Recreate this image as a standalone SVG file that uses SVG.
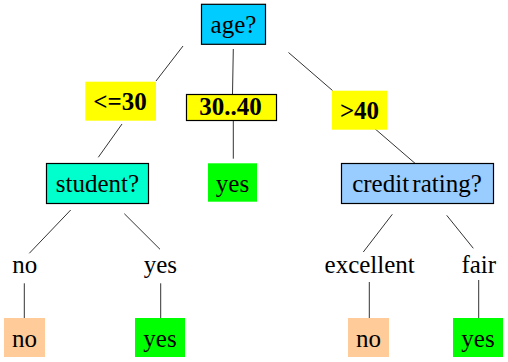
<svg xmlns="http://www.w3.org/2000/svg" width="508" height="362" viewBox="0 0 508 362">
<style>
.t{font-size:25px;fill:#000;text-anchor:middle}
.b{font-weight:bold}
.box{stroke:#000;stroke-width:1.2}
#connectors line{stroke:#333;stroke-width:1}
</style>
<rect width="508" height="362" fill="#fff"/>
<g id="connectors">
<line x1="183" y1="46" x2="156" y2="81"/>
<line x1="233.3" y1="49" x2="232.5" y2="94"/>
<line x1="288.5" y1="52.5" x2="332.5" y2="90.5"/>
<line x1="122" y1="124" x2="98.3" y2="157.3"/>
<line x1="233.3" y1="120.5" x2="233.3" y2="158.7"/>
<line x1="375" y1="128.8" x2="415" y2="163.3"/>
<line x1="70.7" y1="210" x2="29.3" y2="253.3"/>
<line x1="124.3" y1="213.7" x2="160" y2="249.3"/>
<line x1="392.3" y1="214.3" x2="363.3" y2="252"/>
<line x1="446.7" y1="215.3" x2="473.3" y2="248.3"/>
<line x1="24.3" y1="283.3" x2="24.3" y2="318"/>
<line x1="160.7" y1="283.3" x2="160.7" y2="318"/>
<line x1="369.3" y1="282" x2="369.3" y2="318"/>
<line x1="478.7" y1="280" x2="478.7" y2="318"/>
</g>
<g id="age">
<rect class="box" x="201.5" y="4.3" width="64" height="40" fill="#00CCFF"/>
<text class="t" font-family="Liberation Serif" x="233.5" y="33">age?</text>
</g>
<g id="le30">
<rect x="85.3" y="81.7" width="70.7" height="39" fill="#FFFF00"/>
<text class="t b" font-family="Liberation Serif" x="120" y="110">&lt;=30</text>
</g>
<g id="r3040">
<rect class="box" x="186.5" y="94.5" width="90" height="26" fill="#FFFF00"/>
<text class="t b" font-family="Liberation Serif" x="230.5" y="115" font-size="20">30..40</text>
</g>
<g id="gt40">
<rect x="332" y="90.7" width="55" height="39" fill="#FFFF00"/>
<text class="t b" font-family="Liberation Serif" x="359.5" y="119.3">&gt;40</text>
</g>
<g id="student">
<rect class="box" x="46.5" y="163.5" width="102" height="40" fill="#00FFCC"/>
<text class="t" font-family="Liberation Serif" x="97.5" y="191.7">student?</text>
</g>
<g id="yes1">
<rect x="208" y="163.3" width="49" height="38.4" fill="#00FF00"/>
<text class="t" font-family="Liberation Serif" x="232.5" y="191.7">yes</text>
</g>
<g id="credit">
<rect class="box" x="341.5" y="163.5" width="152" height="40" fill="#99CCFF"/>
<text class="t" font-family="Liberation Serif" x="417" y="191.7" word-spacing="-3">credit rating?</text>
</g>
<g id="lbl-no">
<text class="t" font-family="Liberation Serif" x="24.8" y="273.3">no</text>
</g>
<g id="lbl-yes">
<text class="t" font-family="Liberation Serif" x="160.3" y="273.3">yes</text>
</g>
<g id="lbl-excellent">
<text class="t" font-family="Liberation Serif" x="369.7" y="273.3">excellent</text>
</g>
<g id="lbl-fair">
<text class="t" font-family="Liberation Serif" x="478.8" y="273.3">fair</text>
</g>
<g id="leaf-no1">
<rect x="4" y="318" width="41" height="39" fill="#FFCC99"/>
<text class="t" font-family="Liberation Serif" x="24.5" y="346.7">no</text>
</g>
<g id="leaf-yes1">
<rect x="135" y="318" width="50" height="39" fill="#00FF00"/>
<text class="t" font-family="Liberation Serif" x="160" y="346.7">yes</text>
</g>
<g id="leaf-no2">
<rect x="348" y="318" width="41" height="39" fill="#FFCC99"/>
<text class="t" font-family="Liberation Serif" x="368.5" y="346.7">no</text>
</g>
<g id="leaf-yes2">
<rect x="453" y="318" width="50" height="39" fill="#00FF00"/>
<text class="t" font-family="Liberation Serif" x="478" y="346.7">yes</text>
</g>
</svg>
